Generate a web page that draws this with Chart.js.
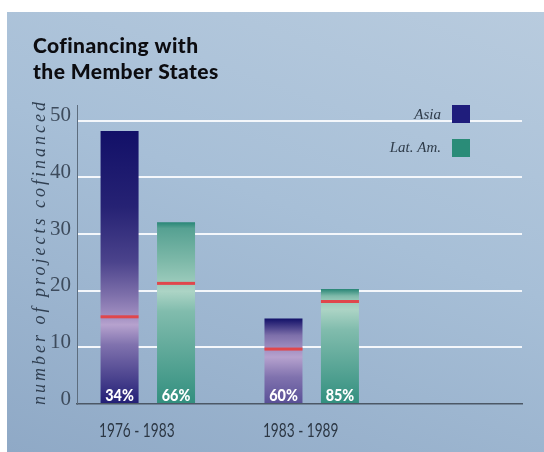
<!DOCTYPE html>
<html><head><meta charset="utf-8">
<script src="https://cdn.jsdelivr.net/npm/chart.js@4.4.1/dist/chart.umd.min.js"></script>
<style>
html,body{margin:0;padding:0;background:#fff;}
#wrap{position:relative;width:544px;height:452px;overflow:hidden;}
#panel{position:absolute;left:7px;top:12px;right:0;bottom:0;background:linear-gradient(200deg,#b8cbde 0%,#a7bfd7 45%,#8fa9c6 100%);}
canvas{position:absolute;left:0;top:0;}
</style></head><body>
<div id="wrap"><div id="panel"></div><canvas id="c" width="544" height="452"></canvas></div>
<script>
const categories = ['1976 - 1983', '1983 - 1989'];
const seriesNames = ['Asia', 'Lat. Am.'];
const asiaValues = [48.2, 15.1];
const latAmValues = [32.1, 20.3];
const asiaMarks = [15.4, 9.7];
const latAmMarks = [21.3, 18.1];
const asiaShares = ['34%', '60%'];
const latAmShares = ['66%', '85%'];
const yTicks = [0, 10, 20, 30, 40, 50];
const titleLines = ['Cofinancing with', 'the Member States'];
const yAxisTitle = 'number of projects cofinanced';

const palettes = [
  {dark: [18,16,104], light: [182,162,206], bottom: [28,26,114], swatch: '#1f1d7c'},
  {dark: [40,134,118], light: [172,212,197], bottom: [50,143,127], swatch: '#2a8c78'}
];
const marksBySeries = [asiaMarks, latAmMarks];
const sharesBySeries = [asiaShares, latAmShares];

function mix(a, b, f) {
  f = Math.max(0, Math.min(1, f));
  return 'rgb(' + a.map((v, i) => Math.round(v + (b[i] - v) * f)).join(',') + ')';
}

function barFill(ctx) {
  const chart = ctx.chart;
  const pal = palettes[ctx.datasetIndex];
  if (!chart.chartArea || !chart.scales.y) return mix(pal.dark, pal.dark, 0);
  const y = chart.scales.y;
  const v = ctx.raw.y;
  const top = y.getPixelForValue(v);
  const bottom = y.getPixelForValue(0);
  const red = y.getPixelForValue(marksBySeries[ctx.datasetIndex][ctx.dataIndex]);
  const h = bottom - top;
  const g = chart.ctx.createLinearGradient(0, top, 0, bottom);
  const t = (px) => Math.max(0, Math.min(1, (px - top) / h));
  const above = red - top;
  g.addColorStop(0, mix(pal.dark, pal.light, 0));
  if (above > 110) g.addColorStop(t(red - 110), mix(pal.dark, pal.light, 0.12));
  if (above > 60) g.addColorStop(t(red - 55), mix(pal.dark, pal.light, 0.35));
  g.addColorStop(t(red - Math.min(22, above * 0.45)), mix(pal.dark, pal.light, 0.65));
  g.addColorStop(t(red), mix(pal.dark, pal.light, 0.88));
  g.addColorStop(t(red + 8), mix(pal.light, pal.light, 0));
  const below = bottom - red;
  if (below > 40) g.addColorStop(t(red + 28), mix(pal.light, pal.bottom, 0.35));
  g.addColorStop(1, mix(pal.light, pal.bottom, below / 90));
  return g;
}

function condensedText(c, text, x, y, sx) {
  c.save();
  c.translate(x, y);
  c.scale(sx, 1);
  c.fillText(text, 0, 0);
  c.restore();
}

const overlay = {
  id: 'overlay',
  afterDatasetsDraw(chart) {
    const c = chart.ctx;
    const y = chart.scales.y;
    c.save();
    chart.data.datasets.forEach((ds, di) => {
      const meta = chart.getDatasetMeta(di);
      meta.data.forEach((bar, i) => {
        const half = bar.width / 2;
        const ry = y.getPixelForValue(marksBySeries[di][i]);
        c.fillStyle = '#e0474c';
        c.fillRect(bar.x - half, ry - 1.5, bar.width, 3);
        c.fillStyle = '#ffffff';
        c.font = '900 16px Lato, "Open Sans", sans-serif';
        c.textAlign = 'center';
        c.textBaseline = 'alphabetic';
        condensedText(c, sharesBySeries[di][i], bar.x, y.getPixelForValue(0) - 3, 0.9);
      });
    });
    c.restore();
  },
  afterDraw(chart) {
    const c = chart.ctx;
    const x = chart.scales.x;
    c.save();
    // category labels (condensed)
    c.fillStyle = '#2c3744';
    c.font = '19px Lato, "Open Sans", sans-serif';
    c.textAlign = 'center';
    c.textBaseline = 'alphabetic';
    categories.forEach((lab, i) => {
      condensedText(c, lab, x.getPixelForValue(i + 1) - 11, 437, 0.72);
    });
    // title
    c.fillStyle = '#0c0c10';
    c.font = '900 21px Lato, "Noto Sans", sans-serif';
    c.letterSpacing = '0.4px';
    c.textAlign = 'left';
    c.fillText(titleLines[0], 33, 53);
    c.fillText(titleLines[1], 33, 79);
    c.letterSpacing = '0px';
    // y axis title
    c.save();
    c.translate(40, 252);
    c.rotate(-Math.PI / 2);
    c.font = 'italic 18px "Liberation Serif", "DejaVu Serif", serif';
    c.letterSpacing = '3px';
    c.fillStyle = '#303f51';
    c.textAlign = 'center';
    c.textBaseline = 'middle';
    c.fillText(yAxisTitle, 0, 0);
    c.restore();
    // legend
    c.font = 'italic 15px "Liberation Serif", "DejaVu Serif", serif';
    c.textAlign = 'right';
    const rows = [{ty: 119, by: 105}, {ty: 152, by: 139}];
    seriesNames.forEach((name, i) => {
      c.fillStyle = '#2f3c4a';
      c.fillText(name, 441, rows[i].ty);
      c.fillStyle = palettes[i].swatch;
      c.fillRect(452, rows[i].by, 18, 18);
    });
    c.restore();
  }
};

new Chart(document.getElementById('c'), {
  type: 'bar',
  data: {
    datasets: [
      {label: seriesNames[0], data: asiaValues.map((v, i) => ({x: i + 1, y: v})), backgroundColor: barFill},
      {label: seriesNames[1], data: latAmValues.map((v, i) => ({x: i + 1, y: v})), backgroundColor: barFill}
    ]
  },
  options: {
    responsive: false,
    devicePixelRatio: 1,
    animation: false,
    categoryPercentage: 0.689,
    barPercentage: 0.673,
    layout: {padding: {top: 105, right: 22, bottom: 0, left: 0}},
    plugins: {legend: {display: false}, tooltip: {enabled: false}, title: {display: false}},
    scales: {
      x: {
        type: 'linear',
        offset: false,
        min: 0.568,
        max: 3.283,
        afterBuildTicks(axis) { axis.ticks = categories.map((_, i) => ({value: i + 1})); },
        afterFit(scale) { scale.height = 48; },
        grid: {display: false},
        border: {display: true, color: '#4c5866', width: 1.5},
        ticks: {display: false}
      },
      y: {
        min: 0,
        max: 52.8,
        afterBuildTicks(axis) { axis.ticks = yTicks.map(v => ({value: v})); },
        afterFit(scale) { scale.width = 77; },
        grid: {color: (ctx) => ctx.tick && ctx.tick.value === 0 ? 'rgba(0,0,0,0)' : '#f4f7fb', lineWidth: 2, drawTicks: false},
        border: {display: true, color: '#5d6d7e', width: 1},
        ticks: {
          padding: 6, labelOffset: -5,
          color: '#3d4b5c',
          font: {family: '"Liberation Serif", "DejaVu Serif", serif', size: 21}
        }
      }
    }
  },
  plugins: [overlay]
});
</script>
</body></html>
